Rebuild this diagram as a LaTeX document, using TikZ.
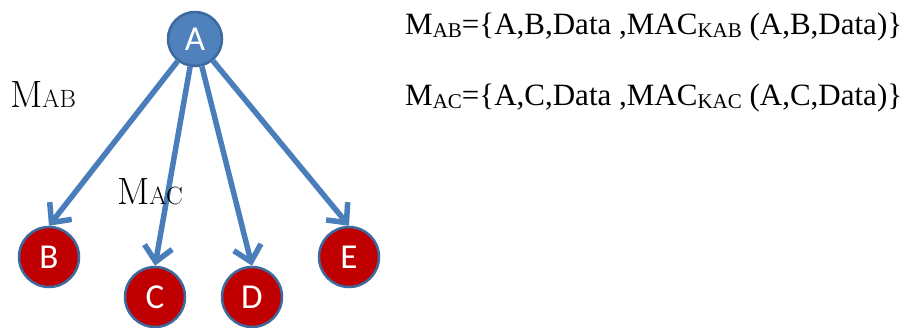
\documentclass[tikz,border=0pt]{standalone}
\usepackage{fontspec}
\usetikzlibrary{arrows.meta}
\newfontfamily\tnrfont{Liberation Serif}
\newfontfamily\nodefont{Carlito}
\definecolor{nodeblue}{HTML}{4F81BD}
\definecolor{rimblue}{HTML}{3C6A9E}
\definecolor{nodered}{HTML}{C00000}
\definecolor{arrowblue}{HTML}{4A7EBB}
\tikzset{
  blue node/.style={circle, draw=rimblue, line width=2.5pt, fill=nodeblue,
    minimum size=54pt, inner sep=0pt, text=white, font=\nodefont\fontsize{35}{35}\selectfont},
  red node/.style={circle, draw=rimblue, line width=2.5pt, fill=nodered,
    minimum size=60pt, inner sep=0pt, text=white, font=\nodefont\fontsize{35}{35}\selectfont},
  msg/.style={draw=arrowblue, line width=5.5pt,
    -{Straight Barb[length=15pt,width=28pt]}},
  edge label/.style={inner sep=0pt, anchor=base, font=\fontsize{38}{38}\selectfont},
  formula/.style={inner sep=0pt, anchor=base west, font=\tnrfont\fontsize{31}{31}\selectfont}
}
\newcommand{\lowsub}[1]{\raisebox{-3pt}{\fontsize{21}{21}\selectfont #1}}
\newcommand{\capsub}[1]{{\fontsize{25}{25}\selectfont #1}}
\begin{document}
\begin{tikzpicture}[x=1pt,y=-1pt]
  \useasboundingbox (0,0) rectangle (915,328);

  % nodes
  \node[blue node] (A) at (195,39) {A};
  \node[red node]  (B) at (49,257) {B};
  \node[red node]  (C) at (155,297) {C};
  \node[red node]  (D) at (252,297) {D};
  \node[red node]  (E) at (349,257) {E};

  % messages sent by A
  \draw[msg] (A) -- (B.north);
  \draw[msg] (A) -- (C.north);
  \draw[msg] (A) -- (D.north);
  \draw[msg] (A) -- (E.north);

  % message labels
  \node[edge label] (lab) at (43,108) {M\capsub{AB}};
  \node[edge label] (lac) at (150,205) {M\capsub{AC}};

  % message contents
  \node[formula] (f1) at (405,35)
    {M\lowsub{AB}=\{A,B,Data ,MAC\lowsub{KAB} (A,B,Data)\}};
  \node[formula] (f2) at (405,106)
    {M\lowsub{AC}=\{A,C,Data ,MAC\lowsub{KAC} (A,C,Data)\}};
\end{tikzpicture}
\end{document}
